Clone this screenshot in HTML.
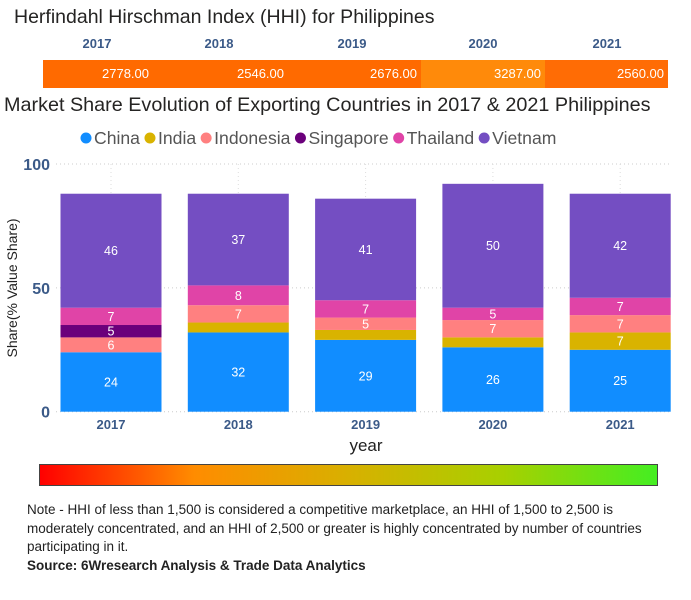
<!DOCTYPE html>
<html><head><meta charset="utf-8"><style>
body{margin:0;width:691px;height:600px;background:#fff;font-family:"Liberation Sans",sans-serif;overflow:hidden;position:relative}
.abs{position:absolute}
.t{color:#252423;white-space:nowrap}
.yr{color:#3b5a88;font-weight:bold;font-size:13px;width:80px;text-align:center;top:36px}
.note{left:27px;font-size:13.5px;color:#222;line-height:18.5px;width:628px}
</style></head><body>
<div class="abs t" style="left:14px;top:6px;font-size:19.5px">Herfindahl Hirschman Index (HHI) for Philippines</div>
<div id="hhi"></div>
<div class="abs t" style="left:4px;top:94px;font-size:19.8px">Market Share Evolution of Exporting Countries in 2017 &amp; 2021 Philippines</div>
<svg class="abs" style="left:0;top:0" width="691" height="600" id="chart"></svg>
<div class="abs" style="left:39px;top:464px;width:617px;height:20px;border:1px solid #444;background:linear-gradient(to right,#ff0000,#ff8c00 25%,#d8b000 50%,#a8d000 75%,#44ee22)"></div>
<div class="abs note" style="top:501px">
<div>Note - HHI of less than 1,500 is considered a competitive marketplace, an HHI of 1,500 to 2,500 is moderately concentrated, and an HHI of 2,500 or greater is highly concentrated by number of countries participating in it.</div>
<div style="font-weight:bold">Source: 6Wresearch Analysis &amp; Trade Data Analytics</div>
</div>
<script>
const hhiYears=["2017","2018","2019","2020","2021"];
const hhiValues=[2778,2546,2676,3287,2560];
const hhiColors=["#ff6a00","#ff6a00","#ff6a00","#ff8a0a","#ff6c05"];
const years=["2017","2018","2019","2020","2021"];
const series=["China","India","Indonesia","Singapore","Thailand","Vietnam"];
const colors=["#118dff","#d9b300","#ff8080","#6b007b","#e044a7","#744ec2"];
const china=[24,32,29,26,25];
const india=[0,4,4,4,7];
const indonesia=[6,7,5,7,7];
const singapore=[5,0,0,0,0];
const thailand=[7,8,7,5,7];
const vietnam=[46,37,41,50,42];
const yTicks=[0,50,100];

const hhi=document.getElementById('hhi');
const bounds=[43,153,288,421,545,668];
hhiYears.forEach((y,i)=>{
  const h=document.createElement('div');
  h.className='abs yr';h.style.left=([97,219,352,483,607][i]-40)+'px';h.textContent=y;
  
  
  hhi.appendChild(h);
  const c=document.createElement('div');
  c.className='abs';
  c.style.cssText=`left:${bounds[i]}px;top:60px;width:${bounds[i+1]-bounds[i]}px;height:28px;background:${hhiColors[i]};color:#fff;font-size:13px;text-align:right;line-height:28px;box-sizing:border-box;padding-right:4px`;
  c.textContent=hhiValues[i].toFixed(2);
  
  
  hhi.appendChild(c);
});

const svg=document.getElementById('chart');const NS='http://www.w3.org/2000/svg';
function el(t,a,txt){const e=document.createElementNS(NS,t);for(const k in a)e.setAttribute(k,a[k]);if(txt!=null)e.textContent=txt;svg.appendChild(e);return e;}
const y0=411.7,ppu=2.477;
const yScale=v=>y0-v*ppu;
const xCenter=i=>111+i*127.3;
const bw=101;
let lx=80;
series.forEach((s,i)=>{
  const c=el('circle',{cx:lx+6,cy:138,r:5.5,fill:colors[i]});
  
  
  const t=el('text',{x:lx+14,y:144,'font-size':17.6,fill:'#555','font-family':'Liberation Sans, sans-serif'},s);
  
  
  lx+=14+t.getComputedTextLength()+4;
});
yTicks.forEach(v=>{
  const g=el('line',{x1:56,x2:672,y1:yScale(v),y2:yScale(v),stroke:'#ccc','stroke-dasharray':'1,3'});
  
  
  const t=el('text',{x:50,y:yScale(v)+6,'text-anchor':'end','font-size':16,'font-weight':'bold',fill:'#3b5a88'},v);
  
  
});
years.forEach((y,i)=>{
  const g=el('line',{x1:xCenter(i),x2:xCenter(i),y1:164,y2:y0,stroke:'#ddd','stroke-dasharray':'1,3'});
  
  
});
const data=[china,india,indonesia,singapore,thailand,vietnam];
years.forEach((y,i)=>{
  let cum=0;
  data.forEach((arr,s)=>{
    const v=arr[i];if(!v){return;}
    const top=yScale(cum+v),bot=yScale(cum);
    const r=el('rect',{x:xCenter(i)-bw/2,y:top,width:bw,height:bot-top,fill:colors[s]});
    
    
    if(v>=5){
      const t=el('text',{x:xCenter(i),y:(top+bot)/2+4.5,'text-anchor':'middle','font-size':12.5,fill:'#fff'},v);
      
      
    }
    cum+=v;
  });
  const t=el('text',{x:xCenter(i),y:429,'text-anchor':'middle','font-size':13,'font-weight':'bold',fill:'#3b5a88'},y);
  
  
});
const xt=el('text',{x:366,y:451,'text-anchor':'middle','font-size':17,fill:'#222'},'year');


const yt=el('text',{x:0,y:0,transform:'translate(17,288) rotate(-90)','text-anchor':'middle','font-size':14,fill:'#222'},'Share(% Value Share)');


</script>
</body></html>
